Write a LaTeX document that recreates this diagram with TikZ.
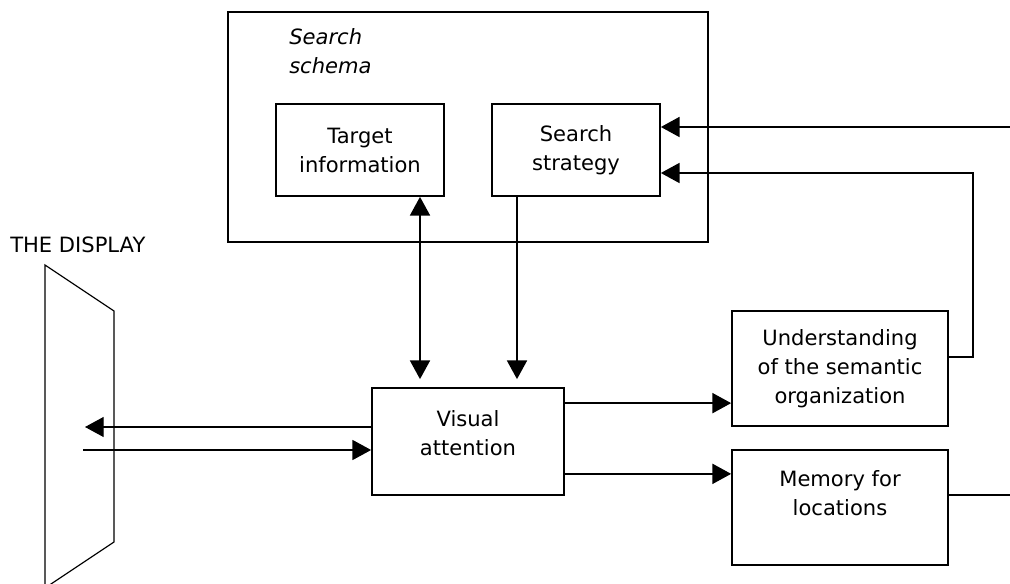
\documentclass[tikz,border=0pt]{standalone}
\usepackage{fontspec}
\setmainfont{DejaVu Sans}
\usepackage{tikz}
\usetikzlibrary{arrows.meta}
\newcommand{\figfont}{\fontsize{15.8pt}{21.75pt}\selectfont}
\tikzset{box/.style={draw, line width=1.3pt, align=center, inner sep=0pt},
  arr/.style={line width=1.2pt},
  thinline/.style={line width=0.9pt}}

\begin{document}
\begin{tikzpicture}[x=0.75pt, y=-0.75pt, font=\figfont, >={Triangle[length=14pt,width=15pt]}]
\useasboundingbox (0,0) rectangle (1010,584);

% search schema
\node[box, minimum width=360pt, minimum height=172.5pt] (schema) at (468,127) {};
\node[anchor=base west, inner sep=0pt, align=left, font=\figfont\itshape] (schemalbl) at (289,74) {Search\\schema};
\node[box, minimum width=126pt, minimum height=69pt] (target) at (360,150) {Target\\information};
\node[box, minimum width=126pt, minimum height=69pt] (strategy) at (576,150) {Search\\strategy};

% the display
\node[anchor=base west, inner sep=0pt] (displbl) at (10,253) {THE DISPLAY};
\draw[thinline] (45,588) -- (45,265) -- (114,311) -- (114,542) -- cycle;

\node[box, minimum width=144pt, minimum height=80.25pt] (visual) at (468,441.5) {};
\node[align=center, inner sep=0pt] (visuallbl) at ([yshift=6.5pt]visual.center) {Visual\\attention};
\node[box, minimum width=162pt, minimum height=86.25pt] (underst) at (840,368.5) {Understanding\\of the semantic\\organization};
\node[box, minimum width=162pt, minimum height=86.25pt] (memory) at (840,507.5) {Memory for\\locations\\~};

\coordinate (dispout) at (85,427);
\coordinate (dispin) at (83,450);
\coordinate (tx) at (420,0);
\coordinate (sx) at (517,0);
\coordinate (fromright) at (1010,127);
\coordinate (toright) at (1010,495);

\draw[thinline,->] (visual.west |- dispout) -- (dispout);
\draw[thinline,->] (dispin) -- (visual.west |- dispin);
\draw[arr,<->] (target.south -| tx) -- ([yshift=6pt]visual.north -| tx);
\draw[arr,->] (strategy.south -| sx) -- ([yshift=6pt]visual.north -| sx);
\draw[arr,->] ([yshift=-12pt]visual.north east) -- ([yshift=-12pt]visual.north east -| underst.west);
\draw[arr,->] ([yshift=16.5pt]visual.south east) -- ([yshift=16.5pt]visual.south east -| memory.west);
\draw[arr,->] ([yshift=8.6pt]underst.east) -- ++(18pt,0) |- ([yshift=-17.25pt]strategy.east);
\draw[arr,->] (fromright) -- (strategy.east |- fromright);
\draw[arr] (memory.east |- toright) -- (toright);
\end{tikzpicture}
\end{document}
